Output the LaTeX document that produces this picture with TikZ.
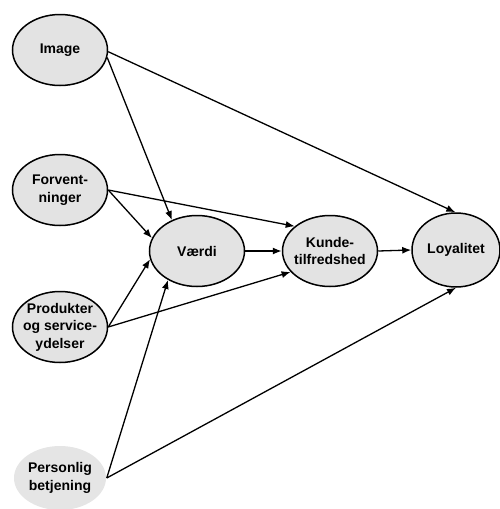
\documentclass[tikz,border=0pt]{standalone}
\usepackage{fontspec}
\setmainfont{Liberation Sans}
\usetikzlibrary{shapes.geometric,arrows.meta}
\tikzset{
  box/.style={ellipse, draw=black, line width=1.5pt, fill=gray!22, inner sep=0pt,
    minimum width=95pt, minimum height=71pt},
  txt/.style={font=\bfseries\fontsize{14}{17.5}\selectfont, align=center, inner sep=0pt},
  conn/.style={line width=1.3pt, -{Latex[length=9pt,width=7pt]}},
}
\begin{document}
\begin{tikzpicture}[x=1pt,y=-1pt]
\useasboundingbox (0,0) rectangle (500,509);
\node[box, label={[txt]center:Image}] (img) at (60,50) {};
\node[box, label={[txt]center:Forvent-\\ninger}] (forv) at (60,190) {};
\node[box, label={[txt]center:Produkter\\og service-\\ydelser}] (prod) at (60,327) {};
\node[box, draw=none, fill=gray!20, minimum width=92pt, minimum height=64pt, label={[txt]center:Personlig\\betjening}] (pers) at (60,478) {};
\node[box, label={[txt]center:V\ae rdi}] (vaerdi) at (197,251) {};
\node[box, label={[txt]center:Kunde-\\tilfredshed}] (kunde) at (330,251) {};
\node[box, minimum width=88pt, minimum height=74pt, label={[txt]center:Loyalitet}] (loyal) at (456,250) {};

\draw[conn] (img.-2) -- (loyal.91);
\draw[conn] (img.-9) -- (vaerdi.129);
\draw[conn] (forv.east) -- (vaerdi.164);
\draw[conn] (forv.east) -- (kunde.145);
\draw[conn] (prod.east) -- (vaerdi.190);
\draw[conn] (prod.east) -- (kunde.208);
\draw[conn] (pers.east) -- (vaerdi.225);
\draw[conn] (pers.east) -- (loyal.270);
\draw[conn] (vaerdi.east) -- (kunde.west);
\draw[conn] (kunde.east) -- (loyal.west);
\end{tikzpicture}
\end{document}
